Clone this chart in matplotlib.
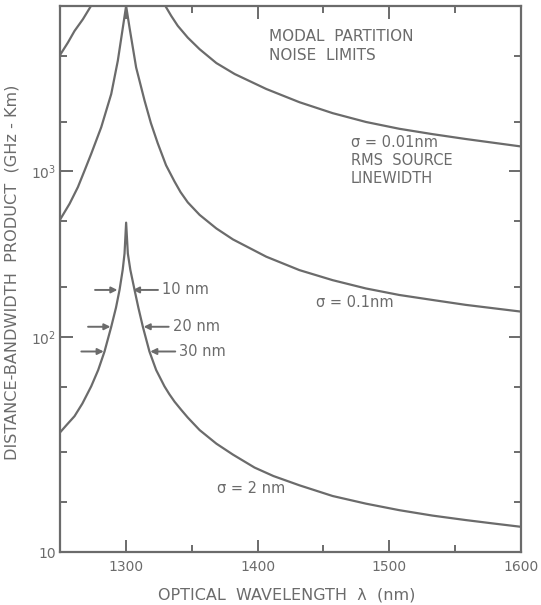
import numpy as np
import matplotlib
matplotlib.use("Agg")
import matplotlib.pyplot as plt
from matplotlib.ticker import FixedLocator, FixedFormatter, NullFormatter

INK = "#6b6b6b"

# Distance-bandwidth limit curves (wavelength nm, GHz-km)
wl_2nm = [1250, 1255, 1261, 1267, 1273.7, 1279, 1283.8, 1288.9, 1292.5,
          1295.2, 1297.6, 1299.0, 1300.2, 1301.5, 1303.4, 1306.6, 1309.5,
          1312.9, 1317.9, 1323, 1329.3, 1333, 1337, 1342, 1347, 1356,
          1368.7, 1381.3, 1397.7, 1412, 1431.8, 1457, 1482.3, 1507.6,
          1532.8, 1558, 1580, 1600]
bl_2nm = [26.4, 29.3, 33.1, 39.5, 50.2, 63, 81.5, 115, 150,
          192, 254, 319, 490, 319, 254, 192, 150,
          115, 81.5, 63, 50.2, 45, 40.5, 36.2, 32.5, 27.3,
          22.6, 19.4, 16.2, 14.4, 12.65, 10.9, 9.8, 8.95,
          8.3, 7.8, 7.42, 7.1]

wl_01nm = [1250, 1257.3, 1263.6, 1268.7, 1273.7, 1281.3, 1288.9, 1293.9,
           1297.7, 1300.2, 1302.8, 1307.8, 1314.2, 1319, 1324.2, 1330.5,
           1336.9, 1341.5, 1347, 1356, 1368.7, 1381.3, 1406.6, 1431.8, 1457,
           1482.3, 1507.6, 1532.8, 1558, 1600]
bl_01nm = [510, 638, 804, 1014, 1278, 1849, 2938, 4670,
           7390, 10000, 7390, 4250, 2680, 1960, 1480, 1090,
           870, 750, 650, 546, 452, 388, 305, 253, 220,
           196, 179, 167, 156, 142]

wl_001nm_left = [1250, 1256, 1261, 1267.4, 1273.5]
bl_001nm_left = [5050, 6010, 7060, 8320, 10000]
wl_001nm_right = [1330, 1334.5, 1339.4, 1347, 1356, 1368.7, 1382.6, 1406.6,
                  1431.8, 1457, 1482.3, 1507.6, 1532.8, 1558, 1600]
bl_001nm_right = [10000, 8700, 7590, 6440, 5480, 4520, 3880, 3150,
                  2620, 2250, 1990, 1810, 1680, 1570, 1415]

# Spectral width markers on the 2 nm curve
width_labels = ["10 nm", "20 nm", "30 nm"]
width_levels = [192, 115, 81.5]
width_left = [1293.6, 1288.3, 1283.2]
width_right = [1305.4, 1313.5, 1318.5]

fig = plt.figure(figsize=(5.41, 6.05), dpi=100)
ax = fig.add_axes([60 / 541, 53 / 605, 461 / 541, 546 / 605])

lw = 1.6
for xs, ys in [(wl_2nm, bl_2nm), (wl_01nm, bl_01nm),
               (wl_001nm_left, bl_001nm_left), (wl_001nm_right, bl_001nm_right)]:
    ax.plot(xs, ys, color=INK, lw=lw, solid_joinstyle="round",
            solid_capstyle="round")

ax.set_yscale("log")
ax.set_xlim(1250, 1600)
ax.set_ylim(5, 1e4)

ax.xaxis.set_major_locator(FixedLocator([1300, 1400, 1500, 1600]))
ax.xaxis.set_minor_locator(FixedLocator([1350, 1450, 1550]))
ax.yaxis.set_major_locator(FixedLocator([5, 100, 1000]))
ax.yaxis.set_major_formatter(FixedFormatter(["10", r"$\mathregular{10^2}$",
                                             r"$\mathregular{10^3}$"]))
ax.yaxis.set_minor_locator(FixedLocator([10, 20, 50, 200, 500, 2000, 5000]))
ax.yaxis.set_minor_formatter(NullFormatter())

for s in ax.spines.values():
    s.set_color(INK)
    s.set_linewidth(1.6)

ax.tick_params(which="both", direction="in", top=True, right=True,
               color=INK, labelcolor=INK, labelsize=10, width=1.4)
ax.tick_params(which="major", length=9, pad=6)
ax.tick_params(axis="y", which="major", pad=3)
ax.tick_params(which="minor", length=5)

fig.text(287 / 541, 1 - 595 / 605, "OPTICAL  WAVELENGTH  λ  (nm)", color=INK,
         fontsize=11.5, ha="center", va="center")
fig.text(12 / 541, 1 - 272 / 605, "DISTANCE-BANDWIDTH  PRODUCT  (GHz - Km)",
         color=INK, fontsize=11.6, ha="center", va="center", rotation=90)

ax.text(1409, 5740, "MODAL  PARTITION\nNOISE  LIMITS", color=INK, fontsize=11,
        va="center", ha="left", linespacing=1.35)
ax.text(1471, 1165, "σ = 0.01nm\nRMS  SOURCE\nLINEWIDTH", color=INK,
        fontsize=10.5, va="center", ha="left", linespacing=1.25)
ax.text(1444.7, 162, "σ = 0.1nm", color=INK, fontsize=10.5, va="center",
        ha="left")
ax.text(1369, 12.1, "σ = 2 nm", color=INK, fontsize=10.5, va="center",
        ha="left")

arrow_kw = dict(arrowstyle="-|>", color=INK, lw=1.4, shrinkA=0, shrinkB=0,
                mutation_scale=9)
for lab, lev, xl, xr in zip(width_labels, width_levels, width_left, width_right):
    ax.annotate("", xy=(xl, lev), xytext=(xl - 17, lev), arrowprops=arrow_kw)
    ax.annotate("", xy=(xr, lev), xytext=(xr + 19, lev), arrowprops=arrow_kw)
    ax.text(xr + 22, lev, lab, color=INK, fontsize=10.5, va="center", ha="left")

fig.savefig("out.png", dpi=100)
